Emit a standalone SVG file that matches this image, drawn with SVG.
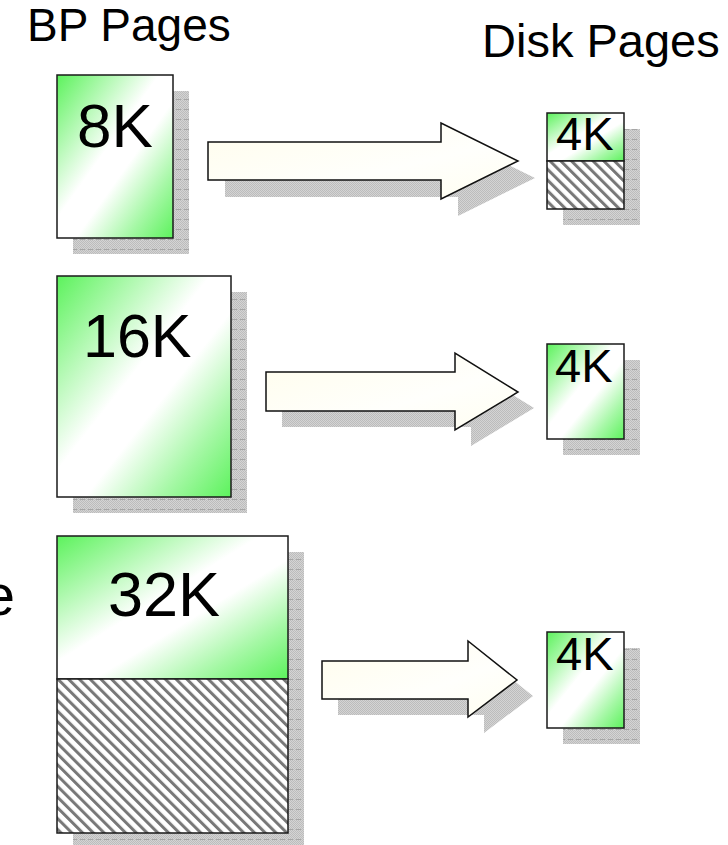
<svg xmlns="http://www.w3.org/2000/svg" width="728" height="845" viewBox="0 0 728 845">
  <style>
    .page { stroke: #1a1a1a; stroke-width: 1.5; }
    .hatch { fill: url(#hatch); stroke: #1a1a1a; stroke-width: 1.5; }
    .shadow { fill: url(#shadowLines); }
    .arrow { fill: url(#ivory); stroke: #111; stroke-width: 1.5; stroke-linejoin: miter; }
    .arrow-shadow { fill: url(#stipple); }
    .label { font-family: "Liberation Sans", Arial, sans-serif; fill: #000; }
  </style>
  <defs>
    <linearGradient id="greenFade" x1="0" y1="0" x2="1" y2="1">
      <stop offset="0" stop-color="#5cf25c"/>
      <stop offset="0.2" stop-color="#a6f8a6"/>
      <stop offset="0.44" stop-color="#ffffff"/>
      <stop offset="0.58" stop-color="#ffffff"/>
      <stop offset="0.8" stop-color="#a6f8a6"/>
      <stop offset="1" stop-color="#5cf25c"/>
    </linearGradient>
    <linearGradient id="ivory" x1="0" y1="0" x2="1" y2="1">
      <stop offset="0" stop-color="#fffdec"/>
      <stop offset="0.6" stop-color="#fffffc"/>
      <stop offset="1" stop-color="#fffef0"/>
    </linearGradient>
    <!-- fine gray halftone used under shapes -->
    <pattern id="stipple" width="2" height="2" patternUnits="userSpaceOnUse">
      <rect width="2" height="2" fill="#d4d4d4"/>
      <rect width="1" height="1" fill="#bcbcbc"/>
      <rect x="1" y="1" width="1" height="1" fill="#bcbcbc"/>
    </pattern>
    <!-- page shadow: halftone with faint ruled lines -->
    <pattern id="shadowLines" width="8" height="10" patternUnits="userSpaceOnUse">
      <rect width="8" height="10" fill="url(#stipple)"/>
      <rect y="9" width="5" height="1" fill="#a6a6a6"/>
    </pattern>
    <!-- diagonal hatching for unused space -->
    <pattern id="hatch" width="7.6" height="7.6" patternUnits="userSpaceOnUse" patternTransform="rotate(-45)">
      <rect width="7.6" height="7.6" fill="#ffffff"/>
      <rect width="3" height="7.6" fill="#787878"/>
    </pattern>
  </defs>

  <!-- column headings -->
  <text class="label" x="27" y="41" font-size="46">BP Pages</text>
  <text class="label" x="482" y="57" font-size="47">Disk Pages</text>
  <!-- clipped word at the left margin -->
  <text class="label" x="15" y="615" font-size="58" text-anchor="end">e</text>

  <!-- block arrows -->
  <g id="connectors">
    <g id="arrow-8k">
      <path class="arrow-shadow" d="M225,159 H458 V140 L535,178 L458,216 V197 H225 Z"/>
      <path class="arrow" d="M208,142 H441 V123 L518,161 L441,199 V180 H208 Z"/>
    </g>
    <g id="arrow-16k">
      <path class="arrow-shadow" d="M282,388 H471 V369 L534,408 L471,446 V427 H282 Z"/>
      <path class="arrow" d="M266,372 H455 V353 L518,392 L455,430 V411 H266 Z"/>
    </g>
    <g id="arrow-32k">
      <path class="arrow-shadow" d="M338,677 H484 V657 L533,696 L484,733 V715 H338 Z"/>
      <path class="arrow" d="M322,661 H468 V641 L517,680 L468,717 V699 H322 Z"/>
    </g>
  </g>

  <!-- buffer pool pages -->
  <g id="bp-8k">
    <rect class="shadow" x="73" y="91" width="116" height="163"/>
    <rect class="page" x="57" y="75" width="116" height="163" fill="url(#greenFade)"/>
    <text class="label" x="77" y="147" font-size="62">8K</text>
  </g>
  <g id="bp-16k">
    <rect class="shadow" x="73" y="292" width="174" height="221"/>
    <rect class="page" x="57" y="276" width="174" height="221" fill="url(#greenFade)"/>
    <text class="label" x="83" y="357" font-size="61">16K</text>
  </g>
  <g id="bp-32k">
    <rect class="shadow" x="73" y="552" width="231" height="300"/>
    <rect class="page" x="57" y="536" width="231" height="143" fill="url(#greenFade)"/>
    <rect class="hatch" x="57" y="679" width="231" height="154"/>
    <text class="label" x="108" y="616" font-size="63">32K</text>
  </g>

  <!-- disk pages -->
  <g id="disk-4k-a">
    <rect class="shadow" x="563" y="129" width="77" height="96"/>
    <rect class="page" x="547" y="113" width="77" height="48" fill="url(#greenFade)"/>
    <rect class="hatch" x="547" y="161" width="77" height="48"/>
    <text class="label" x="556" y="150" font-size="47">4K</text>
  </g>
  <g id="disk-4k-b">
    <rect class="shadow" x="563" y="360" width="77" height="95"/>
    <rect class="page" x="547" y="344" width="77" height="95" fill="url(#greenFade)"/>
    <text class="label" x="555" y="382" font-size="47">4K</text>
  </g>
  <g id="disk-4k-c">
    <rect class="shadow" x="563" y="648" width="77" height="96"/>
    <rect class="page" x="547" y="632" width="77" height="96" fill="url(#greenFade)"/>
    <text class="label" x="556" y="670" font-size="47">4K</text>
  </g>
</svg>
